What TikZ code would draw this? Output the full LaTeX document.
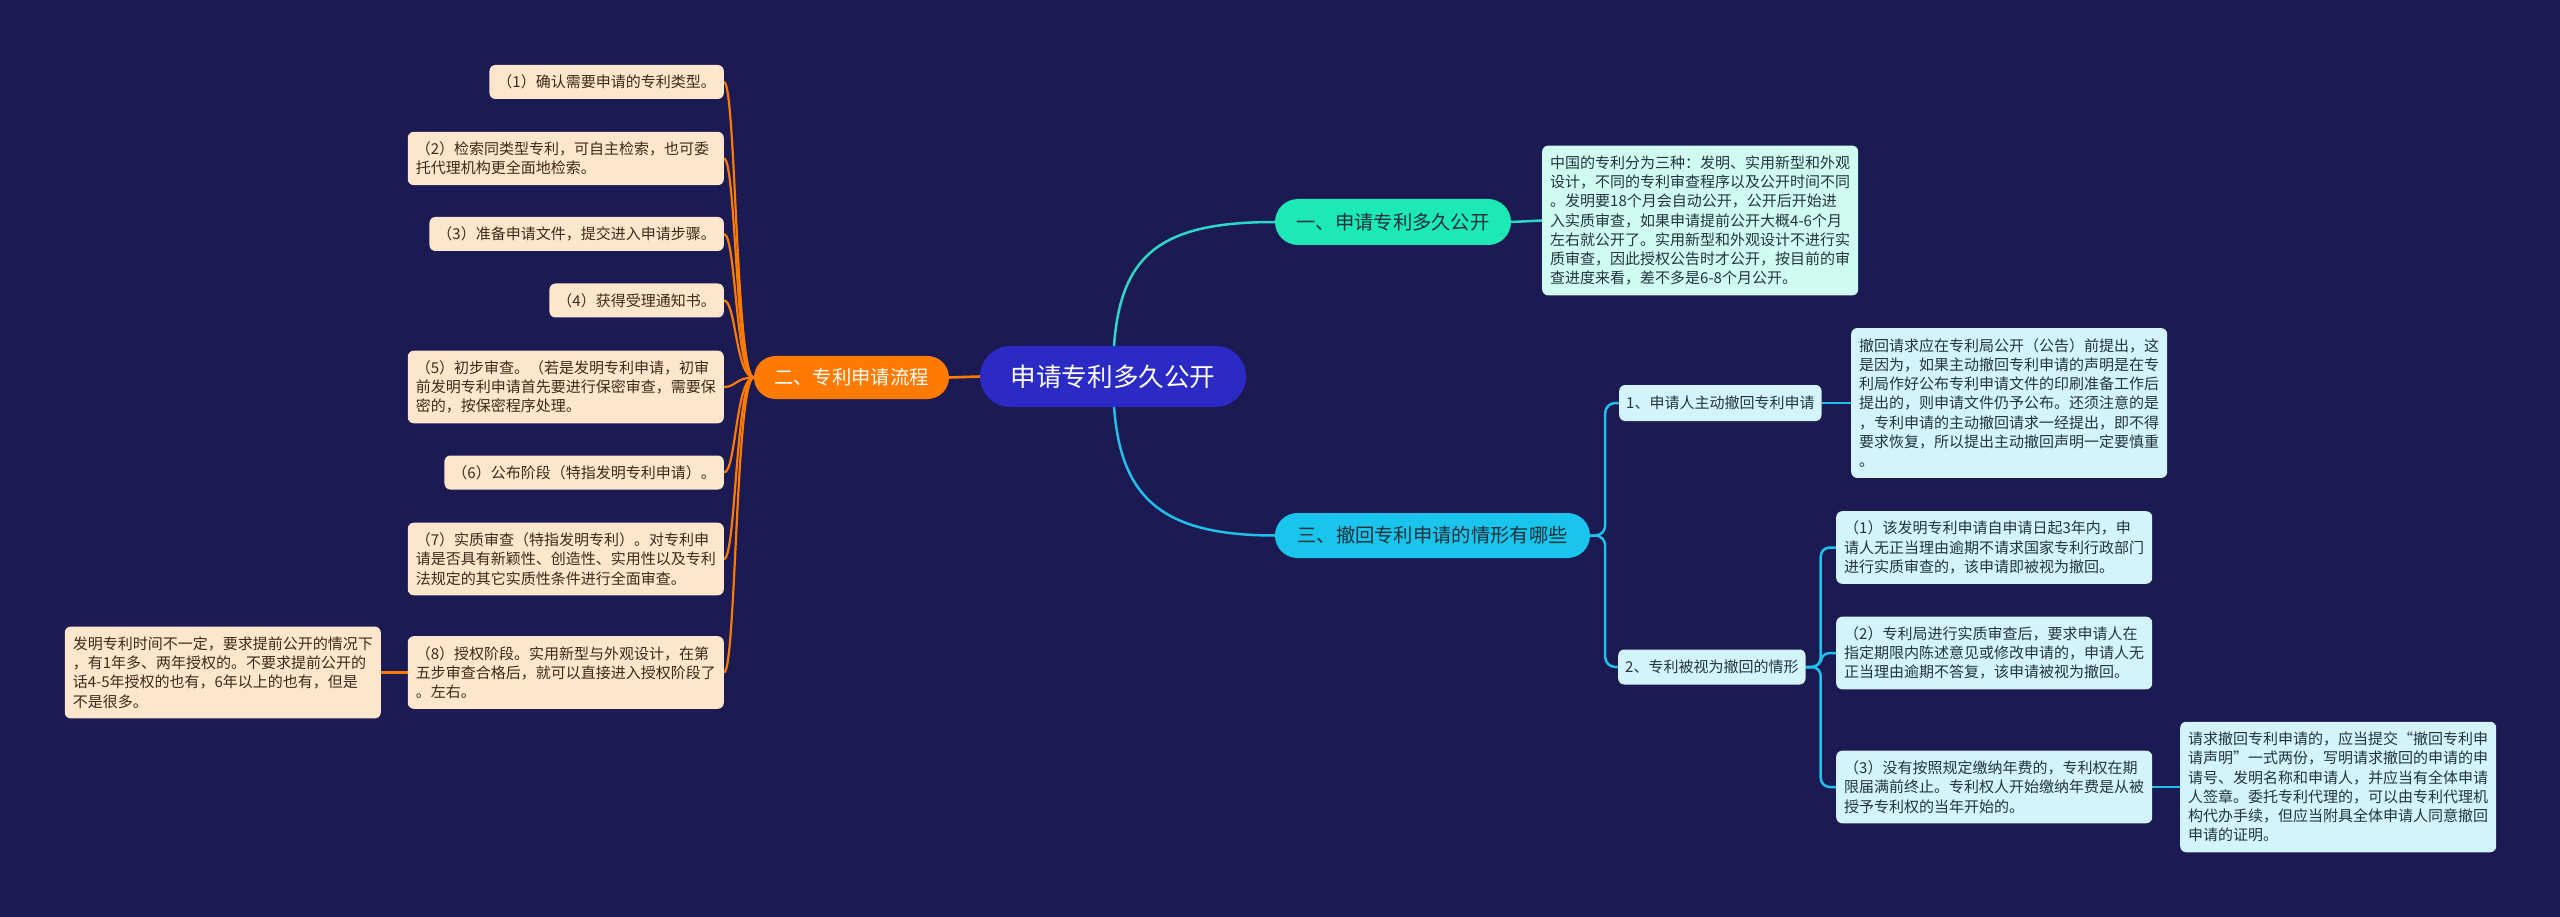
\documentclass[tikz,border=0pt]{standalone}
\usepackage{fontspec}
\setmainfont{Noto Sans CJK SC}
\usetikzlibrary{backgrounds}
\definecolor{bg}{HTML}{1B1A52}
\definecolor{rootfill}{HTML}{2B2AC4}
\definecolor{tealfill}{HTML}{1DE9B6}
\definecolor{cyanfill}{HTML}{19C5EC}
\definecolor{orangefill}{HTML}{FF7A00}
\definecolor{peach}{HTML}{FEE6CC}
\definecolor{lcyan}{HTML}{D2F4FA}
\definecolor{lmint}{HTML}{D0FBF1}
\definecolor{tealline}{HTML}{2ED8C8}
\definecolor{cyanline}{HTML}{1FC0EA}
\definecolor{orangeline}{HTML}{FF7A00}
\definecolor{brownText}{HTML}{3E2A1A}
\definecolor{darkText}{HTML}{23343F}
\definecolor{branchText}{HTML}{1C2F3A}
\begin{document}
\begin{tikzpicture}[x=1pt,y=-1pt,
  pill/.style={rectangle, rounded corners=#1, inner sep=0pt, align=center},
  leafbox/.style={rectangle, rounded corners=6pt, inner xsep=8pt, inner ysep=0pt,
    font=\fontsize{15}{19.3}\selectfont, align=left},
  nl/.style={minimum height={#1*19.3pt+14.7pt}},
  wide/.style={text width=300pt},
  leftleaf/.style={leafbox, fill=peach, text=brownText, anchor=east},
  rightleaf/.style={leafbox, fill=lcyan, text=darkText, anchor=west},
  mintleaf/.style={leafbox, fill=lmint, text=darkText, anchor=west},
  oline/.style={draw=orangeline, line width=2.2pt},
  tline/.style={draw=tealline, line width=2.5pt},
  cline/.style={draw=cyanline, line width=2.5pt},
]
\useasboundingbox (0,0) rectangle (2560,917);

% root and branches
\node[pill=30.5pt, fill=rootfill, text=white, minimum width=266pt, minimum height=61pt,
  font=\fontsize{25.6}{30}\selectfont] (root) at (1113,376.5) {申请专利多久公开};
\node[pill=23pt, fill=tealfill, text=branchText, minimum width=236pt, minimum height=46pt,
  font=\fontsize{19.3}{23}\selectfont] (b1) at (1393,222) {一、申请专利多久公开};
\node[pill=22.5pt, fill=cyanfill, text=branchText, minimum width=315pt, minimum height=45pt,
  font=\fontsize{19.3}{23}\selectfont] (b3) at (1432.5,535.5) {三、撤回专利申请的情形有哪些};
\node[pill=21.5pt, fill=orangefill, text=white, minimum width=195pt, minimum height=43pt,
  font=\fontsize{19.3}{23}\selectfont] (b2) at (851.5,377.5) {二、专利申请流程};

% branch one
\node[mintleaf, nl=7, wide] (d1) at (1542,220.5) {中国的专利分为三种：发明、实用新型和外观\\设计，不同的专利审查程序以及公开时间不同\\。发明要18个月会自动公开，公开后开始进\\入实质审查，如果申请提前公开大概4-6个月\\左右就公开了。实用新型和外观设计不进行实\\质审查，因此授权公告时才公开，按目前的审\\查进度来看，差不多是6-8个月公开。};

% branch three
\node[rightleaf, minimum height=36pt, inner xsep=7pt] (s1) at (1619,403) {1、申请人主动撤回专利申请};
\node[rightleaf, minimum height=35pt, inner xsep=7pt] (s2) at (1618,667) {2、专利被视为撤回的情形};
\node[rightleaf, nl=7, wide] (d2) at (1851,403) {撤回请求应在专利局公开（公告）前提出，这\\是因为，如果主动撤回专利申请的声明是在专\\利局作好公布专利申请文件的印刷准备工作后\\提出的，则申请文件仍予公布。还须注意的是\\，专利申请的主动撤回请求一经提出，即不得\\要求恢复，所以提出主动撤回声明一定要慎重\\。};
\node[rightleaf, nl=3, wide] (c1) at (1836,547.5) {（1）该发明专利申请自申请日起3年内，申\\请人无正当理由逾期不请求国家专利行政部门\\进行实质审查的，该申请即被视为撤回。};
\node[rightleaf, nl=3, wide] (c2) at (1836,653) {（2）专利局进行实质审查后，要求申请人在\\指定期限内陈述意见或修改申请的，申请人无\\正当理由逾期不答复，该申请被视为撤回。};
\node[rightleaf, nl=3, wide] (c3) at (1836,787) {（3）没有按照规定缴纳年费的，专利权在期\\限届满前终止。专利权人开始缴纳年费是从被\\授予专利权的当年开始的。};
\node[rightleaf, nl=6, wide] (d3) at (2180,787) {请求撤回专利申请的，应当提交“撤回专利申\\请声明”一式两份，写明请求撤回的申请的申\\请号、发明名称和申请人，并应当有全体申请\\人签章。委托专利代理的，可以由专利代理机\\构代办手续，但应当附具全体申请人同意撤回\\申请的证明。};

% branch two (left)
\node[leftleaf, nl=1] (L1) at (724,82) {（1）确认需要申请的专利类型。};
\node[leftleaf, nl=2, wide] (L2) at (724,158.5) {（2）检索同类型专利，可自主检索，也可委\\托代理机构更全面地检索。};
\node[leftleaf, nl=1] (L3) at (724,234) {（3）准备申请文件，提交进入申请步骤。};
\node[leftleaf, nl=1] (L4) at (724,300.5) {（4）获得受理通知书。};
\node[leftleaf, nl=3, wide] (L5) at (724,387) {（5）初步审查。（若是发明专利申请，初审\\前发明专利申请首先要进行保密审查，需要保\\密的，按保密程序处理。};
\node[leftleaf, nl=1] (L6) at (724,472.5) {（6）公布阶段（特指发明专利申请）。};
\node[leftleaf, nl=3, wide] (L7) at (724,559) {（7）实质审查（特指发明专利）。对专利申\\请是否具有新颖性、创造性、实用性以及专利\\法规定的其它实质性条件进行全面审查。};
\node[leftleaf, nl=3, wide] (L8) at (724,672.5) {（8）授权阶段。实用新型与外观设计，在第\\五步审查合格后，就可以直接进入授权阶段了\\。左右。};
\node[leftleaf, nl=4, wide] (D8) at (381,672.5) {发明专利时间不一定，要求提前公开的情况下\\，有1年多、两年授权的。不要求提前公开的\\话4-5年授权的也有，6年以上的也有，但是\\不是很多。};

\begin{pgfonlayer}{background}
  \fill[bg] (0,0) rectangle (2560,917);
  % root to branches
  \draw[tline] (root.center) .. controls +(0,-116) and +(-125,0) .. (b1.west);
  \draw[cline] (root.center) .. controls +(0,113) and +(-125,0) .. (b3.west);
  \draw[oline, line width=2.6pt] (root.west) -- (b2.east);
  % branch one
  \draw[tline] (b1.east) -- (d1.west);
  % branch three
  \draw[cline, rounded corners=10pt] (b3.east) -- ++(15,0) |- (s1.west);
  \draw[cline, rounded corners=10pt] (b3.east) -- ++(15,0) |- (s2.west);
  \draw[cline] (s1.east) -- (d2.west);
  \foreach \n in {c1,c2,c3}
    \draw[cline, rounded corners=9pt] (s2.east) -- ++(15,0) |- (\n.west);
  \draw[cline] (c3.east) -- (d3.west);
  % branch two
  \foreach \n in {L1,L2,L3,L4,L5,L6,L7,L8}
    \draw[oline] (b2.west) .. controls +(-18,0) and +(12,0) .. (\n.east);
  \draw[oline] (L8.west) -- (D8.east);
\end{pgfonlayer}
\end{tikzpicture}
\end{document}
